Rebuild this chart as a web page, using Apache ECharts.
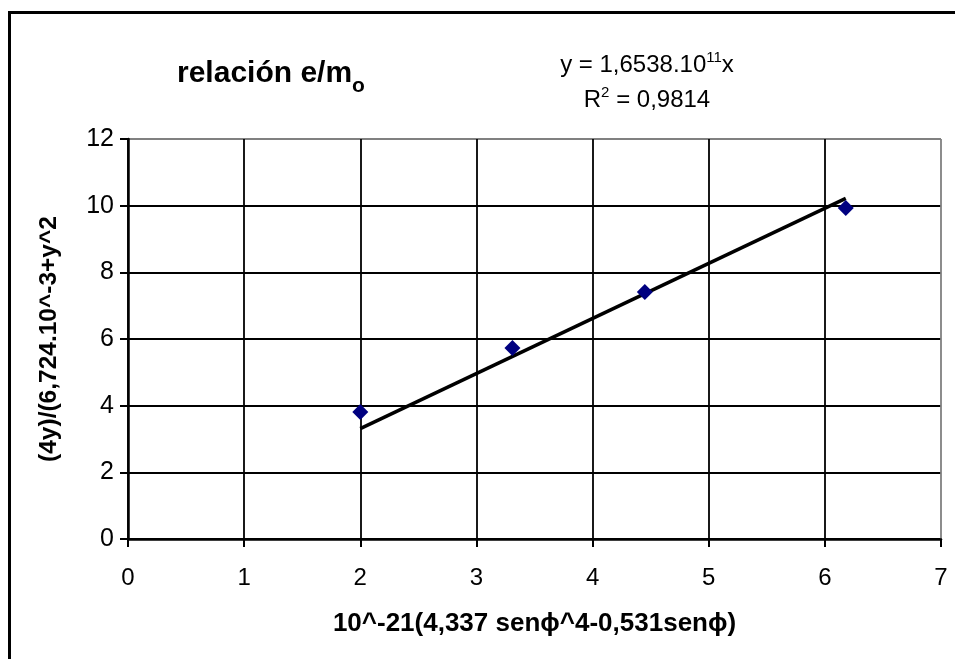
<!DOCTYPE html>
<html>
<head>
<meta charset="utf-8">
<script src="https://cdn.jsdelivr.net/npm/echarts@6/dist/echarts.min.js"></script>
<style>html,body{margin:0;padding:0;background:#fff;}#c{width:955px;height:659px;}</style>
</head>
<body>
<div id="c"></div>
<script>
// Data
var pointsX = [2.0, 3.31, 4.45, 6.18];
var pointsY = [3.81, 5.73, 7.41, 9.93];
var trendX = [2.0, 6.18];
var trendY = [3.31, 10.22];
var xTicks = [0, 1, 2, 3, 4, 5, 6, 7];
var yTicks = [0, 2, 4, 6, 8, 10, 12];
var titleMain = 'relación e/m';
var titleSub = 'o';
var xName = '10^-21(4,337 senϕ^4-0,531senϕ)';
var yName = '(4y)/(6,724.10^-3+y^2';
var eqLine1 = ['y = 1,6538.10', '11', 'x'];
var eqLine2 = ['R', '2', ' = 0,9814'];

var FONT = 'Liberation Sans, Arial, sans-serif';
var chart = echarts.init(document.getElementById('c'), null, {renderer: 'canvas'});

var scatterData = pointsX.map(function (x, i) { return [x, pointsY[i]]; });
var trendData = trendX.map(function (x, i) { return [x, trendY[i]]; });

function splitColors(n) {
  var a = [];
  for (var i = 0; i < n - 1; i++) a.push('#000000');
  a.push('#808080');
  return a;
}

chart.setOption({
  animation: false,
  backgroundColor: '#ffffff',
  grid: {left: 128, top: 139, width: 813, height: 400, containLabel: false},
  title: {
    text: '{a|' + titleMain + '}{b|' + titleSub + '}',
    left: 172, top: 48,
    textStyle: {
      rich: {
        a: {fontFamily: FONT, fontWeight: 'bold', fontSize: 30, color: '#000', verticalAlign: 'bottom', lineHeight: 36},
        b: {fontFamily: FONT, fontWeight: 'bold', fontSize: 21, color: '#000', verticalAlign: 'bottom', lineHeight: 36, padding: [0, 0, -8, 0]}
      }
    }
  },
  xAxis: {
    type: 'value', min: xTicks[0], max: xTicks[xTicks.length - 1], interval: 1,
    name: xName, nameLocation: 'middle', nameGap: 72,
    nameTextStyle: {fontFamily: FONT, fontWeight: 'bold', fontSize: 26, color: '#000'},
    axisLine: {onZero: false, lineStyle: {color: '#000', width: 2.5}},
    axisTick: {show: true, length: 8, inside: false, lineStyle: {color: '#000', width: 2}},
    axisLabel: {fontFamily: FONT, fontSize: 24, color: '#000', margin: 27},
    splitLine: {show: true, lineStyle: {color: splitColors(xTicks.length), width: 1.8}}
  },
  yAxis: {
    type: 'value', min: yTicks[0], max: yTicks[yTicks.length - 1], interval: 2,
    name: yName, nameLocation: 'middle', nameGap: 66, nameRotate: 90,
    nameTextStyle: {fontFamily: FONT, fontWeight: 'bold', fontSize: 24.5, color: '#000'},
    axisLine: {onZero: false, lineStyle: {color: '#000', width: 2.5}},
    axisTick: {show: true, length: 8, inside: false, lineStyle: {color: '#000', width: 2}},
    axisLabel: {fontFamily: FONT, fontSize: 25, color: '#000', margin: 14},
    splitLine: {show: true, lineStyle: {color: splitColors(yTicks.length), width: 1.8}}
  },
  series: [
    {
      type: 'line', data: trendData, symbol: 'none', silent: true,
      lineStyle: {color: '#000', width: 3.5}, z: 3
    },
    {
      type: 'scatter', data: scatterData, symbol: 'diamond', symbolSize: 16,
      itemStyle: {color: '#000080', opacity: 1}, z: 4
    }
  ],
  graphic: [
    {
      type: 'rect', left: 7, top: 10, silent: true, z: 100,
      shape: {x: 0, y: 0, width: 1000, height: 700},
      style: {fill: 'none', stroke: '#000', lineWidth: 3}
    },
    {
      type: 'text', silent: true, x: 647, y: 42,
      style: {
        text: '{n|' + eqLine1[0] + '}{s|' + eqLine1[1] + '}{n|' + eqLine1[2] + '}\n{n|' + eqLine2[0] + '}{s|' + eqLine2[1] + '}{n|' + eqLine2[2] + '}',
        align: 'center', verticalAlign: 'top',
        rich: {
          n: {fontFamily: FONT, fontSize: 24, fill: '#000', lineHeight: 35, verticalAlign: 'bottom'},
          s: {fontFamily: FONT, fontSize: 15, fill: '#000', lineHeight: 35, verticalAlign: 'bottom', padding: [0, 0, 12, 0]}
        }
      }
    }
  ]
});
</script>
</body>
</html>
